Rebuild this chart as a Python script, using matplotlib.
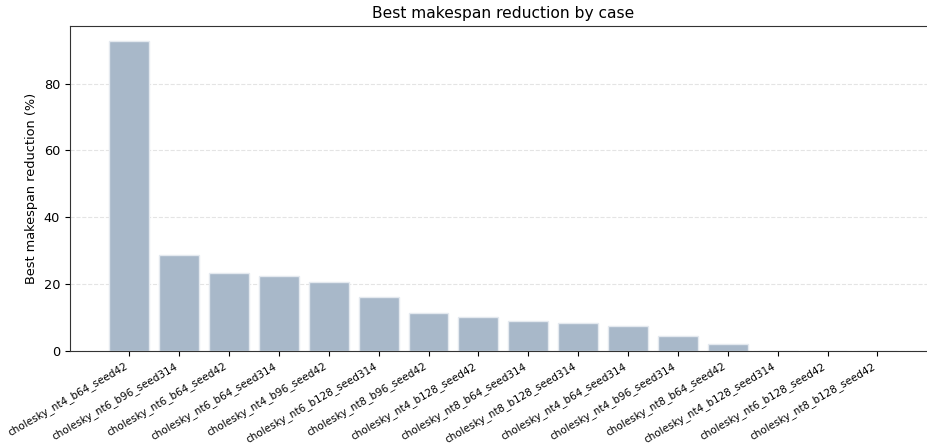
import matplotlib
matplotlib.use('Agg')
import matplotlib.pyplot as plt

# Best makespan reduction (%) per cholesky case, sorted descending.
cases = ['cholesky_nt4_b64_seed42', 'cholesky_nt6_b96_seed314',
    'cholesky_nt6_b64_seed42', 'cholesky_nt6_b64_seed314',
    'cholesky_nt4_b96_seed42', 'cholesky_nt6_b128_seed314',
    'cholesky_nt8_b96_seed42', 'cholesky_nt4_b128_seed42',
    'cholesky_nt8_b64_seed314', 'cholesky_nt8_b128_seed314',
    'cholesky_nt4_b64_seed314', 'cholesky_nt4_b96_seed314',
    'cholesky_nt8_b64_seed42', 'cholesky_nt4_b128_seed314',
    'cholesky_nt6_b128_seed42', 'cholesky_nt8_b128_seed42']
reduction = [92.6, 28.8, 23.4, 22.5, 20.7, 16.2, 11.3, 10.2,
    9.1, 8.5, 7.4, 4.6, 2.0, 0.0, 0.0, 0.0]

plt.rcParams['font.size'] = 9.3
fig = plt.figure(figsize=(9.28, 4.45), dpi=100)
# Axes run slightly past the right edge of the canvas.
ax = fig.add_axes([0.0754, 0.2112, 0.934, 0.7304])
ax.bar(range(len(cases)), reduction, color='#a8b8c9',
    edgecolor='#e4e9ef', linewidth=1.0, zorder=2)
ax.yaxis.grid(True, linestyle='--', color='#d9d9d9', alpha=0.7, zorder=0)
ax.set_axisbelow(True)
ax.set_xticks(range(len(cases)))
ax.set_xticklabels(cases, rotation=30, ha='right', fontsize=7.45)
ax.set_ylabel('Best makespan reduction (%)')
ax.set_title('Best makespan reduction by case', fontsize=11.2)
for s in ax.spines.values():
    s.set_color('#333333')
fig.savefig('out.png', dpi=100)
